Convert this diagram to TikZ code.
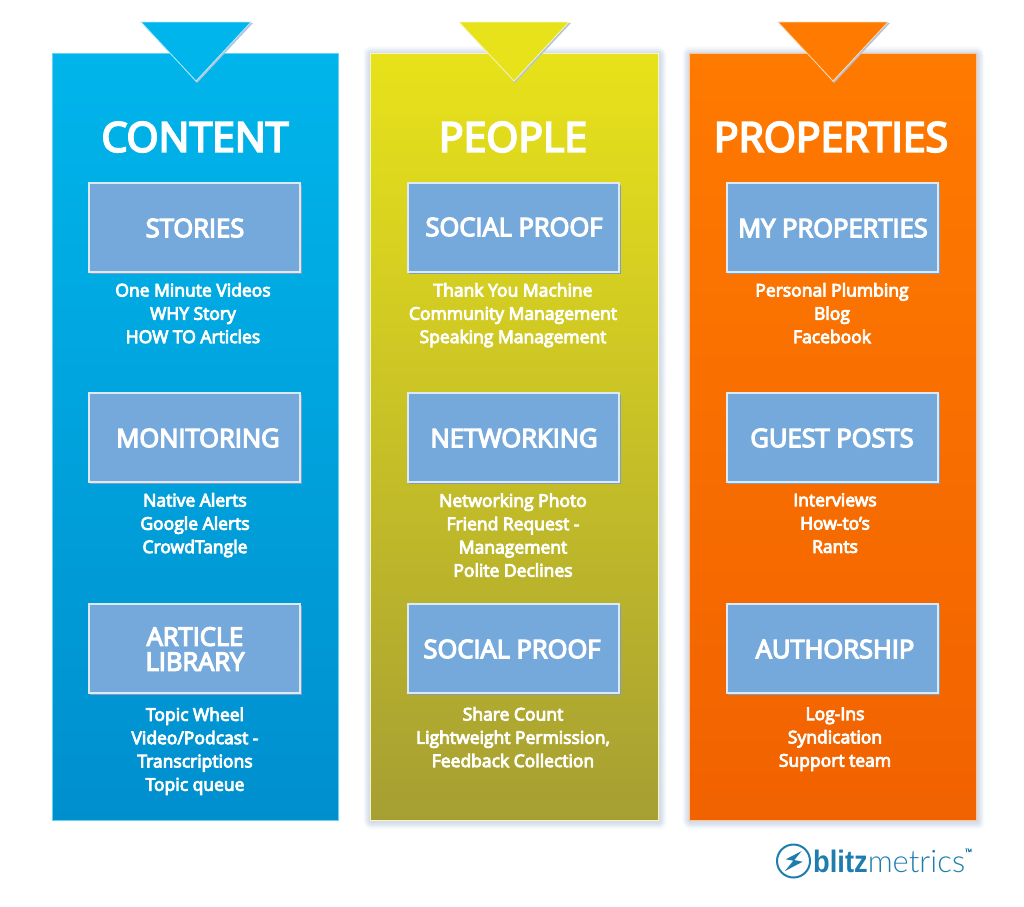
\documentclass[tikz,border=0pt]{standalone}
\usepackage{fontspec}
\setmainfont[FakeBold=5]{Open Sans}
\newfontfamily\logolight{Lato Light}
\newfontfamily\logoheavy[FakeStretch=0.88]{Liberation Sans}
\usetikzlibrary{shadings}

\definecolor{blueTop}{HTML}{00B5EB}
\definecolor{blueBot}{HTML}{008FCE}
\definecolor{yellowTop}{HTML}{E8E21A}
\definecolor{yellowBot}{HTML}{A69F33}
\definecolor{orangeTop}{HTML}{FF7A00}
\definecolor{orangeBot}{HTML}{F16200}
\definecolor{boxBlue}{HTML}{75A9DC}
\definecolor{logoBlue}{HTML}{1E7DAE}
\definecolor{shadowBlue}{HTML}{7F9CC4}

\tikzset{
  title/.style={text=white, font=\fontsize{41}{41}\selectfont},
  label/.style={text=white, align=center, font=\fontsize{25.5}{25}\selectfont},
  items/.style={text=white, align=center, yshift=-2.6pt, font=\fontsize{17.5}{23.3}\selectfont,
    execute at begin node=\strut, execute at end node=\strut},
  bluebox/.style={fill=boxBlue, draw=white!75!boxBlue, line width=1.3pt}
}

\begin{document}
\begin{tikzpicture}[x=1pt, y=-1pt]
\useasboundingbox (0,0) rectangle (1024,906);

\def\contentpanel{(52,53) rectangle (338,820)}
\def\peoplepanel{(370,53) rectangle (658,820)}
\def\propertiespanel{(689,53) rectangle (976,820)}

% soft shadows behind the two right panels
\foreach \w in {2,4,...,14} {
  \draw[shadowBlue, opacity=0.035, line width=\w pt, line join=round] \peoplepanel;
  \draw[shadowBlue, opacity=0.035, line width=\w pt, line join=round] \propertiespanel;
}
\foreach \w in {2,4,...,14} {
  \draw[shadowBlue, opacity=0.03, line width=\w pt, line join=round] (372,56) rectangle (660,823);
  \draw[shadowBlue, opacity=0.03, line width=\w pt, line join=round] (691,56) rectangle (978,823);
}

% panels
\shade[top color=blueTop, bottom color=blueBot, draw=blueTop!60!white, line width=0.8pt] \contentpanel;
\shade[top color=yellowTop, bottom color=yellowBot, draw=white!70!yellowTop, line width=1pt] \peoplepanel;
\shade[top color=orangeTop, bottom color=orangeBot, draw=white!55!orangeTop, line width=1pt] \propertiespanel;

% triangles on top of the panels
\fill[shadowBlue!60!white] (143,23) -- (253,23) -- (197,83) -- cycle;
\fill[shadowBlue!60!white] (461,23) -- (571,23) -- (515,83) -- cycle;
\fill[shadowBlue!60!white] (780,23) -- (890,23) -- (834,83) -- cycle;
\filldraw[fill=blueTop, draw=white!70!blueTop, line width=0.8pt] (141,22) -- (251,22) -- (196,81) -- cycle;
\filldraw[fill=yellowTop, draw=white!70!yellowTop, line width=0.8pt] (459,22) -- (569,22) -- (514,81) -- cycle;
\filldraw[fill=orangeTop, draw=white!70!orangeTop, line width=0.8pt] (778,22) -- (888,22) -- (833,81) -- cycle;

% the nine boxes
\foreach \x in {89,408,727} {
  \foreach \y in {183,393,604} {
    \fill[shadowBlue] (\x+1,\y+2) rectangle (\x+213,\y+91);
    \filldraw[bluebox] (\x,\y) rectangle (\x+211,\y+89);
  }
}

\node[title] (content) at (195,137) {CONTENT};
\node[title] (people) at (513,137) {PEOPLE};
\node[title] (properties) at (831,137) {PROPERTIES};

\node[label] (stories) at (195,228) {STORIES};
\node[label] (monitoring) at (198,438) {MONITORING};
\node[label] (library) at (195,649) {ARTICLE\\LIBRARY};
\node[label] (proofa) at (514,227) {SOCIAL PROOF};
\node[label] (networking) at (514,438) {NETWORKING};
\node[label] (proofb) at (512,649) {SOCIAL PROOF};
\node[label] (myprops) at (833,228) {MY PROPERTIES};
\node[label] (guest) at (832,438) {GUEST POSTS};
\node[label] (authorship) at (835,649) {AUTHORSHIP};

\node[items] (storieslist) at (193,314) {One Minute Videos\\WHY Story\\HOW TO Articles};
\node[items] (monitorlist) at (195,524) {Native Alerts\\Google Alerts\\CrowdTangle};
\node[items] (librarylist) at (195,750) {Topic Wheel\\Video/Podcast -\\Transcriptions\\Topic queue};
\node[items] (proofalist) at (513,314) {Thank You Machine\\Community Management\\Speaking Management};
\node[items] (networklist) at (513,536) {Networking Photo\\Friend Request -\\Management\\Polite Declines};
\node[items] (proofblist) at (513,738) {Share Count\\Lightweight Permission,\\Feedback Collection};
\node[items] (mylist) at (832,314) {Personal Plumbing\\Blog\\Facebook};
\node[items] (guestlist) at (835,524) {Interviews\\How-to's\\Rants};
\node[items] (authorlist) at (835,738) {Log-Ins\\Syndication\\Support team};

% logo
\draw[logoBlue, line width=2pt] (793.5,861) circle (16.5);
\fill[logoBlue] (801.7,851) -- (785.7,859.3) -- (793.3,860.7) -- (785,871) -- (802.7,861.7) -- (794.3,860) -- cycle;
\node[anchor=base west, inner sep=0pt, text=logoBlue, font=\fontsize{31}{31}\selectfont] (logo) at (813,872) {{\logoheavy\bfseries blitz}{\logolight metrics}};
\node[anchor=base west, inner sep=0pt, text=logoBlue, font=\fontsize{4.5}{5}\selectfont] (tm) at (965,852) {TM};

\end{tikzpicture}
\end{document}
